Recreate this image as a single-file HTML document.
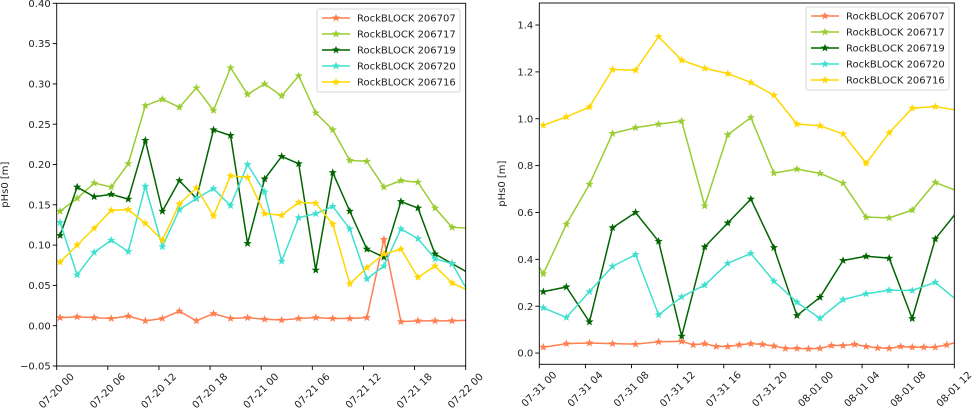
<!DOCTYPE html>
<html><head><meta charset="utf-8"><style>
body{margin:0;background:#fff;}
svg text{font-family:"DejaVu Sans","Liberation Sans",sans-serif;fill:#222;}
</style></head><body>
<svg id="chart" width="974" height="413" viewBox="0 0 974 413" xmlns="http://www.w3.org/2000/svg"></svg>
<script>
// ---- Left chart data (hours since 07-20 00) ----
const leftTimes = [0.4,2.4,4.4,6.4,8.4,10.4,12.4,14.4,16.4,18.4,20.4,22.4,24.4,26.4,28.4,30.4,32.4,34.4,36.4,38.4,40.4,42.4,44.4,46.4,48.4];
const left206707 = [0.010,0.011,0.010,0.009,0.012,0.006,0.009,0.018,0.006,0.015,0.009,0.010,0.008,0.007,0.009,0.010,0.009,0.009,0.010,0.107,0.005,0.006,0.006,0.006,0.007];
const left206717 = [0.142,0.158,0.177,0.172,0.201,0.273,0.281,0.271,0.295,0.267,0.320,0.287,0.300,0.285,0.310,0.264,0.243,0.205,0.204,0.172,0.180,0.178,0.146,0.122,0.121];
const left206719 = [0.112,0.172,0.160,0.163,0.157,0.230,0.142,0.180,0.158,0.243,0.236,0.102,0.182,0.210,0.201,0.069,0.190,0.142,0.095,0.085,0.154,0.146,0.089,0.077,0.065];
const left206720 = [0.128,0.063,0.091,0.106,0.092,0.173,0.098,0.144,0.158,0.170,0.149,0.200,0.166,0.080,0.134,0.139,0.148,0.120,0.058,0.074,0.120,0.108,0.083,0.077,0.040];
const left206716 = [0.079,0.100,0.121,0.143,0.144,0.127,0.106,0.151,0.171,0.136,0.186,0.184,0.139,0.137,0.153,0.152,0.126,0.052,0.072,0.089,0.095,0.060,0.074,0.053,0.043];
const leftXTicks = [0,6,12,18,24,30,36,42,48];
const leftXTickLabels = ["07-20 00","07-20 06","07-20 12","07-20 18","07-21 00","07-21 06","07-21 12","07-21 18","07-22 00"];
const leftYTicks = [-0.05,0,0.05,0.10,0.15,0.20,0.25,0.30,0.35,0.40];
const leftYTickLabels = ["\u22120.05","0.00","0.05","0.10","0.15","0.20","0.25","0.30","0.35","0.40"];

// ---- Right chart data (hours since 07-31 00) ----
const rightTimes = [-1.65,0.35,2.35,4.35,6.35,8.35,10.35,12.35,14.35,16.35,18.35,20.35,22.35,24.35,26.35,28.35,30.35,32.35,34.35,36.35];
const right206717 = [0.50,0.338,0.550,0.720,0.937,0.962,0.977,0.990,0.628,0.932,1.005,0.768,0.785,0.767,0.725,0.580,0.577,0.610,0.728,0.690];
const right206719 = [null,0.262,0.282,0.133,0.535,0.600,0.477,0.072,0.453,0.555,0.657,0.450,0.160,0.238,0.395,0.413,0.405,0.147,0.487,0.610];
const right206720 = [null,0.193,0.152,0.262,0.370,0.420,0.163,0.240,0.290,0.383,0.425,0.307,0.217,0.148,0.228,0.253,0.268,0.267,0.302,0.220];
const right206716 = [null,0.972,1.008,1.050,1.210,1.207,1.350,1.250,1.215,1.193,1.155,1.100,0.977,0.970,0.935,0.810,0.940,1.045,1.052,1.035];
const right707Times = [0.35,2.35,4.35,6.35,8.35,10.35,12.35,13.35,14.35,15.35,16.35,17.35,18.35,19.35,20.35,21.35,22.35,23.35,24.35,25.35,26.35,27.35,28.35,29.35,30.35,31.35,32.35,33.35,34.35,35.35,36.35];
const right206707 = [0.025,0.040,0.043,0.040,0.038,0.048,0.050,0.035,0.040,0.028,0.028,0.035,0.040,0.037,0.030,0.020,0.020,0.018,0.020,0.032,0.032,0.037,0.028,0.022,0.020,0.028,0.025,0.025,0.025,0.035,0.048];
const rightXTicks = [0,4,8,12,16,20,24,28,32,36];
const rightXTickLabels = ["07-31 00","07-31 04","07-31 08","07-31 12","07-31 16","07-31 20","08-01 00","08-01 04","08-01 08","08-01 12"];
const rightYTicks = [0,0.2,0.4,0.6,0.8,1.0,1.2,1.4];
const rightYTickLabels = ["0.0","0.2","0.4","0.6","0.8","1.0","1.2","1.4"];

const seriesNames = ["RockBLOCK 206707","RockBLOCK 206717","RockBLOCK 206719","RockBLOCK 206720","RockBLOCK 206716"];
const colors = ["#ff7f50","#9acd32","#006400","#40e0d0","#ffd700"];

const NS="http://www.w3.org/2000/svg";
const svg=document.getElementById('chart');
function mk(tag,attrs,parent){const e=document.createElementNS(NS,tag);for(const k in attrs)e.setAttribute(k,attrs[k]);(parent||svg).appendChild(e);return e;}
function starPath(cx,cy,r){let d="";for(let i=0;i<10;i++){const rr=i%2?r*0.42:r;const a=-Math.PI/2+i*Math.PI/5;d+=(i?"L":"M")+(cx+rr*Math.cos(a)).toFixed(2)+","+(cy+rr*Math.sin(a)).toFixed(2);}return d+"Z";}

function drawChart(cfg){
  const {id,x0,x1,y0,y1,tmin,tmax,vmin,vmax}=cfg;
  const g=mk('g',{});
  
  
  const xs=t=>x0+(t-tmin)/(tmax-tmin)*(x1-x0);
  const ys=v=>y1-(v-vmin)/(vmax-vmin)*(y1-y0);
  const cp=mk('clipPath',{id:id+'-clip'},g);
  mk('rect',{x:x0,y:y0,width:x1-x0,height:y1-y0},cp);
  const plot=mk('g',{'clip-path':'url(#'+id+'-clip)'},g);
  
  
  cfg.series.forEach((s,si)=>{
    const sg=mk('g',{},plot);
    
    
    let d="";let started=false;
    s.t.forEach((t,i)=>{const v=s.v[i];if(v==null){started=false;return;}d+=(started?"L":"M")+xs(t).toFixed(2)+","+ys(v).toFixed(2);started=true;});
    mk('path',{d:d,fill:'none',stroke:colors[si],'stroke-width':1.5,'stroke-linejoin':'round'},sg);
    s.t.forEach((t,i)=>{const v=s.v[i];if(v==null)return;
      const m=mk('path',{d:starPath(xs(t),ys(v),4.3),fill:colors[si]},sg);
      
      });
  });
  const frame=mk('rect',{x:x0,y:y0,width:x1-x0,height:y1-y0,fill:'none',stroke:'#000','stroke-width':0.9},g);
  
  
  cfg.xticks.forEach((t,i)=>{const x=xs(t);
    mk('line',{x1:x,x2:x,y1:y1,y2:y1+4,stroke:'#000','stroke-width':0.9},g);
    const tx=mk('text',{x:x,y:y1+25,'font-size':10,'text-anchor':'middle','dominant-baseline':'middle',transform:'rotate(-45 '+x+' '+(y1+25)+')'},g);
    tx.textContent=cfg.xlabels[i];
    
    });
  cfg.yticks.forEach((v,i)=>{const y=ys(v);
    mk('line',{x1:x0-4,x2:x0,y1:y,y2:y,stroke:'#000','stroke-width':0.9},g);
    const tx=mk('text',{x:x0-6,y:y+3.6,'font-size':10,'text-anchor':'end'},g);
    tx.textContent=cfg.ylabels[i];
    
    });
  const yt=mk('text',{x:cfg.ytx,y:(y0+y1)/2,'font-size':10,'text-anchor':'middle',transform:'rotate(-90 '+cfg.ytx+' '+((y0+y1)/2)+')'},g);
  yt.textContent='pHs0 [m]';
  
  
  const lg=mk('g',{},g);
  
  
  mk('rect',{x:cfg.lx,y:cfg.ly,width:143,height:83,rx:2,fill:'#fff','fill-opacity':0.85,stroke:'#ccc','stroke-width':0.8},lg);
  seriesNames.forEach((n,i)=>{const yy=cfg.ly+9+i*16;
    const e=mk('g',{},lg);
    
    
    mk('line',{x1:cfg.lx+5,x2:cfg.lx+33,y1:yy,y2:yy,stroke:colors[i],'stroke-width':1.5},e);
    mk('path',{d:starPath(cfg.lx+19,yy,4.3),fill:colors[i]},e);
    const t=mk('text',{x:cfg.lx+40,y:yy+3.6,'font-size':10},e);t.textContent=n;});
}

drawChart({id:'left',x0:56.7,x1:465.7,y0:3.3,y1:366,tmin:0,tmax:48,vmin:-0.05,vmax:0.40,
  series:[{t:leftTimes,v:left206707},{t:leftTimes,v:left206717},{t:leftTimes,v:left206719},{t:leftTimes,v:left206720},{t:leftTimes,v:left206716}],
  xticks:leftXTicks,xlabels:leftXTickLabels,yticks:leftYTicks,ylabels:leftYTickLabels,ytx:8,lx:317,ly:9});
drawChart({id:'right',x0:539.3,x1:954.3,y0:3,y1:364.3,tmin:0,tmax:36,vmin:-0.048,vmax:1.494,
  series:[{t:right707Times,v:right206707},{t:rightTimes,v:right206717},{t:rightTimes,v:right206719},{t:rightTimes,v:right206720},{t:rightTimes,v:right206716}],
  xticks:rightXTicks,xlabels:rightXTickLabels,yticks:rightYTicks,ylabels:rightYTickLabels,ytx:505,lx:806,ly:7});
</script>
</body></html>
